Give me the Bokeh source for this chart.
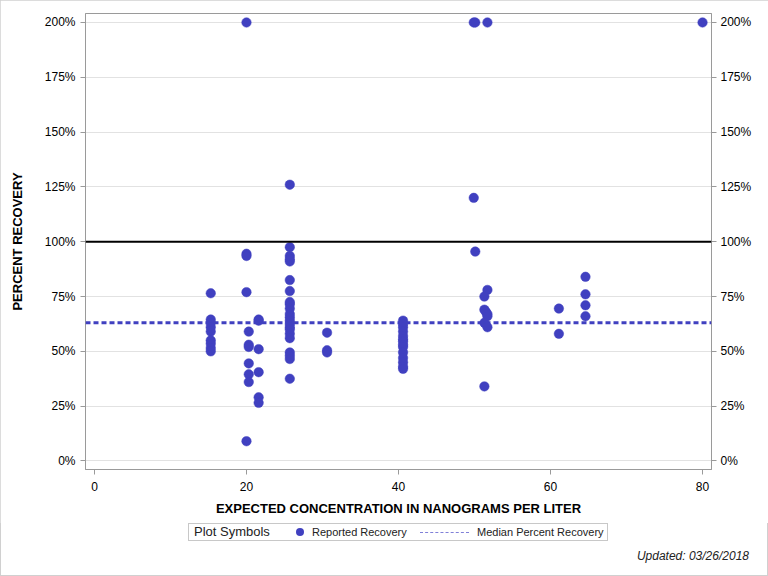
from bokeh.plotting import figure
from bokeh.layouts import column
from bokeh.models import (Range1d, LinearAxis, PrintfTickFormatter, Span,
                          FixedTicker, ColumnDataSource, Div)
from bokeh.embed import file_html
from bokeh.resources import INLINE

# ---- data ----
concentration = (
    [15.3] * 9 +
    [20.0] * 5 +
    [20.3] * 6 +
    [21.6] * 6 +
    [25.7] * 22 +
    [30.6] * 3 +
    [40.6] * 14 +
    [49.9, 49.9, 50.1, 50.1, 51.7] +
    [51.7, 51.3, 51.3, 51.5, 51.7, 51.7, 51.3, 51.7, 51.3] +
    [61.1] * 2 +
    [64.6] * 4 +
    [80.0]
)
recovery = (
    [76.5, 64.5, 63, 61, 59, 55, 53.5, 51.5, 50] +
    [200, 94.5, 93.5, 77, 9] +
    [59, 53, 52, 44.5, 39.5, 36] +
    [64.5, 64, 51, 40.5, 29, 26.5] +
    [126, 97.5, 93.5, 92, 91, 82.5, 77.5, 72.5, 71.5, 69.5, 67, 65.5, 64, 62.5,
     61, 60, 58, 56, 49.5, 48, 46.5, 37.5] +
    [58.5, 50.5, 49.5] +
    [64, 62.5, 61, 59, 57, 55.5, 54.5, 53, 52, 49.5, 47, 45, 43, 42] +
    [200, 120, 200, 95.5, 200] +
    [78, 75, 69, 68, 67, 66, 63, 61, 34] +
    [69.5, 58] +
    [84, 76, 71, 66] +
    [200]
)
x_ticks = [0, 20, 40, 60, 80]
y_ticks = [0, 25, 50, 75, 100, 125, 150, 175, 200]
reference_recovery = 100
median_recovery = 63
legend_title = "Plot Symbols"
legend_labels = ["Reported Recovery", "Median Percent Recovery"]
footer_text = "Updated: 03/26/2018"

FONT = "Liberation Sans"
BLUE = "#4040C0"
AXIS_GRAY = "#9a9a9a"

# ---------------- main plot ----------------
p = figure(width=768, height=523,
           x_range=Range1d(-1.18, 81.18), y_range=Range1d(-3.9, 204.1),
           output_backend="svg", toolbar_location=None,
           min_border_left=85, min_border_right=57,
           min_border_top=13, min_border_bottom=54)
p.outline_line_color = AXIS_GRAY
p.background_fill_color = "white"
p.border_fill_color = "white"

p.xgrid.visible = False
p.ygrid.ticker = FixedTicker(ticks=y_ticks)
p.ygrid.grid_line_color = "#e2e2e2"
p.ygrid.grid_line_width = 1

p.xaxis.ticker = FixedTicker(ticks=x_ticks)
p.yaxis.ticker = FixedTicker(ticks=y_ticks)
p.yaxis.formatter = PrintfTickFormatter(format="%d%%")
p.xaxis.axis_label = "EXPECTED CONCENTRATION IN NANOGRAMS PER LITER"
p.yaxis.axis_label = "PERCENT RECOVERY"

right_axis = LinearAxis(ticker=FixedTicker(ticks=y_ticks),
                        formatter=PrintfTickFormatter(format="%d%%"))
p.add_layout(right_axis, "right")

for ax in [p.xaxis[0], p.yaxis[0], right_axis]:
    ax.axis_line_color = AXIS_GRAY
    ax.major_tick_line_color = AXIS_GRAY
    ax.major_tick_in = 0
    ax.major_tick_out = 5
    ax.minor_tick_line_color = None
    ax.major_label_text_font = FONT
    ax.major_label_text_font_size = "12px"
    ax.major_label_text_color = "black"
    ax.major_label_standoff = 6
    ax.axis_label_text_font = FONT
    ax.axis_label_text_font_size = "13px"
    ax.axis_label_text_font_style = "bold"
    ax.axis_label_text_color = "black"
p.xaxis[0].major_label_standoff = 7
p.yaxis[0].major_label_standoff = 5
right_axis.major_label_standoff = 4
p.yaxis[0].axis_label_standoff = 17
p.xaxis[0].axis_label_standoff = 7

p.add_layout(Span(location=reference_recovery, dimension="width",
                  line_color="black", line_width=2))
p.add_layout(Span(location=median_recovery, dimension="width",
                  line_color=BLUE, line_width=3, line_dash="5 3"))

src = ColumnDataSource(dict(x=concentration, y=recovery))
p.scatter("x", "y", source=src, size=9.5, fill_color=BLUE,
          line_color=BLUE, line_width=0.5)

# ---------------- legend + footer strip ----------------
html = f"""
<div style="position:relative;width:768px;height:53px;font-family:'{FONT}';color:#222;">
  <div style="position:absolute;left:188px;top:0px;width:420px;height:18px;
              box-sizing:border-box;border:1px solid #c8c8c8;background:white;"></div>
  <span style="position:absolute;left:194px;top:0px;line-height:18px;font-size:13px;
               white-space:nowrap;">{legend_title}</span>
  <span style="position:absolute;left:296px;top:5px;width:8px;height:8px;
               border-radius:50%;background:{BLUE};"></span>
  <span style="position:absolute;left:312px;top:0px;line-height:18px;font-size:11px;
               white-space:nowrap;">{legend_labels[0]}</span>
  <span style="position:absolute;left:420px;top:9px;width:49px;height:0px;
               border-top:1px dashed #8080d8;"></span>
  <span style="position:absolute;left:477px;top:0px;line-height:18px;font-size:11px;
               white-space:nowrap;">{legend_labels[1]}</span>
  <span style="position:absolute;right:19px;top:25px;line-height:16px;font-size:12px;
               font-style:italic;white-space:nowrap;">{footer_text}</span>
</div>
"""
footer = Div(text=html, width=768, height=53, margin=0)

layout = column(p, footer, spacing=0)
layout.styles = {"outline": "1px solid #d0d0d0", "outline-offset": "-1px"}

open("out.html", "w").write(file_html(layout, INLINE))
